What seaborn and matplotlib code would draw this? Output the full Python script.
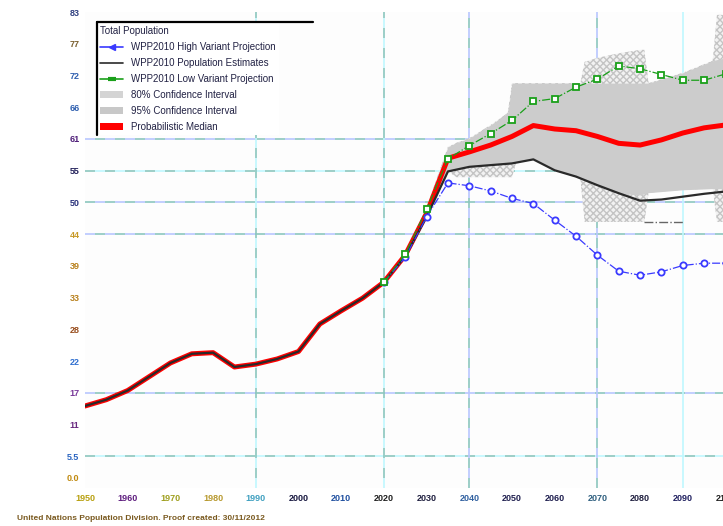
import numpy as np
import pandas as pd
import matplotlib.pyplot as plt
import seaborn as sns
from matplotlib.lines import Line2D
from matplotlib.patches import Patch

# ---- data (millions) ----
est_years = list(range(1950, 2101, 5))
est_vals = [14.3, 15.4, 17.0, 19.4, 21.8, 23.4, 23.6, 21.1, 21.6, 22.5, 23.8,
            28.6, 30.9, 33.1, 35.9, 40.4, 47.3, 55.2, 56.0, 56.3, 56.6, 57.3,
            55.4, 54.3, 52.8, 51.4, 50.1, 50.3, 50.8, 51.3, 51.7]
median_vals = [14.3, 15.4, 17.0, 19.4, 21.8, 23.4, 23.6, 21.1, 21.6, 22.5, 23.8,
               28.6, 30.9, 33.1, 35.9, 40.6, 47.9, 57.5, 58.6, 59.8, 61.3, 63.2,
               62.6, 62.3, 61.3, 60.1, 59.8, 60.7, 61.9, 62.8, 63.3]

proj_years = list(range(2020, 2101, 5))
high_vals = [35.9, 40.2, 47.3, 53.2, 52.7, 51.8, 50.5, 49.6, 46.7, 43.9, 40.6,
             37.8, 37.1, 37.7, 38.8, 39.2, 39.2]
low_vals = [35.9, 40.8, 48.6, 57.4, 59.7, 61.8, 64.1, 67.4, 67.9, 69.9, 71.3,
            73.6, 73.1, 72.1, 71.1, 71.1, 72.2]

ci_years = [2025, 2030, 2035, 2037, 2040, 2045, 2049, 2050, 2051, 2055, 2060,
            2066, 2067, 2070, 2075, 2080, 2081, 2082, 2090, 2097, 2098, 2100]
ci80_hi = [41.0, 49.0, 59.5, 60.2, 61.0, 63.3, 65.4, 70.6, 70.6, 70.6, 70.6,
           70.6, 70.6, 70.6, 70.6, 70.6, 70.6, 70.6, 72.4, 74.5, 74.7, 75.0]
ci80_lo = [40.0, 47.0, 55.2, 55.6, 56.0, 56.3, 56.5, 56.6, 56.8, 57.3, 55.4,
           54.0, 53.7, 52.8, 51.4, 51.1, 51.3, 51.5, 52.0, 52.2, 52.2, 52.2]
ci95_hi = [41.0, 49.0, 59.5, 60.2, 61.0, 63.3, 65.4, 70.6, 70.6, 70.6, 70.6,
           70.6, 74.3, 75.0, 75.8, 76.4, 76.4, 70.6, 72.4, 74.5, 82.5, 82.5]
ci95_lo = [40.0, 47.0, 55.2, 54.2, 54.2, 54.2, 54.2, 54.2, 56.8, 57.3, 55.4,
           54.0, 46.4, 46.4, 46.4, 46.4, 46.4, 51.5, 52.0, 52.2, 46.4, 46.4]

stray_years = [2081, 2090]
stray_vals = [46.4, 46.4]

y_max = 83
y_ticks = [i * y_max / 15 for i in range(16)]
y_labels = ["", "5.5", "11", "17", "22", "28", "33", "39", "44", "50",
            "55", "61", "66", "72", "77", "83"]
zero_label = "0.0"
x_ticks = list(range(1950, 2101, 10))

legend_title = "Total Population"
lbl_high = "WPP2010 High Variant Projection"
lbl_est = "WPP2010 Population Estimates"
lbl_low = "WPP2010 Low Variant Projection"
lbl_80 = "80% Confidence Interval"
lbl_95 = "95% Confidence Interval"
lbl_med = "Probabilistic Median"
footer = "United Nations Population Division. Proof created: 30/11/2012"

# ---- styling ----
sns.set_style("white")
plt.rcParams['font.family'] = ['Liberation Sans', 'DejaVu Sans']

teal, lblue, cyan = '#8cc6be', '#b8c6ff', '#bff8ff'
ylab_colors = ['#c08a10', '#2a64c0', '#6a2a80', '#7a3a9a', '#3070d0', '#9a5020',
               '#b8801c', '#b8801c', '#c89a28', '#28307a', '#22205a', '#50207a',
               '#3060b0', '#3060b0', '#7a6030', '#304080']
xlab_colors = ['#b8a010', '#602080', '#a0a020', '#b89a30', '#40a0c0', '#181840',
               '#2050a0', '#202020', '#202040', '#3060a0', '#202050', '#202050',
               '#306080', '#202040', '#202060', '#202020']

fig = plt.figure(figsize=(7.23, 5.26), dpi=100)
ax = fig.add_axes([85 / 723, 38 / 526, 155 * 4.27 / 723, 476 / 526])
ax.set_facecolor('#fdfdfd')

# dashed grid, two colours interleaved
h_grid = [(11, lblue, teal), (10, teal, cyan), (9, teal, lblue),
          (8, lblue, teal), (3, lblue, teal), (1, teal, cyan)]
for i, c1, c2 in h_grid:
    ax.axhline(y_ticks[i], color=c1, lw=1.2, ls=(0, (6, 6)), zorder=0)
    ax.axhline(y_ticks[i], color=c2, lw=1.2, ls=(6, (6, 6)), zorder=0)
v_grid = [(1990, cyan, teal), (2020, cyan, teal), (2040, teal, lblue),
          (2070, teal, lblue), (2090, cyan, cyan)]
for yr, c1, c2 in v_grid:
    ax.axvline(yr, color=c1, lw=1.2, ls=(0, (6, 6)), zorder=0)
    ax.axvline(yr, color=c2, lw=1.2, ls=(6, (6, 6)), zorder=0)

# confidence bands
ax.fill_between(ci_years, ci95_lo, ci95_hi, facecolor='#f2f2f2',
                edgecolor='#c4c4c4', hatch='xxxxx', lw=0, zorder=1)
ax.fill_between(ci_years, ci80_lo, ci80_hi, color='#cccccc', lw=0, zorder=2)

sns.lineplot(x=stray_years, y=stray_vals, ax=ax, color='#666666', lw=1,
             linestyle='-.', zorder=3)
sns.lineplot(x=est_years, y=median_vals, ax=ax, color='#ff0000', lw=3.6,
             zorder=4)
sns.lineplot(x=est_years, y=est_vals, ax=ax, color='#2a2a2a', lw=1.6,
             zorder=5)
sns.lineplot(x=proj_years, y=high_vals, ax=ax, color='#3a3aff', lw=0.9,
             linestyle='-.', marker='o', markersize=4.5, markerfacecolor='white',
             markeredgecolor='#3a3aff', markeredgewidth=1.3, zorder=6)
sns.lineplot(x=proj_years, y=low_vals, ax=ax, color='#1aa01a', lw=0.9,
             linestyle='-.', marker='s', markersize=4.5, markerfacecolor='white',
             markeredgecolor='#1aa01a', markeredgewidth=1.3, zorder=6)

ax.set_xlim(1950, 2105)
ax.set_ylim(0, y_max)
ax.set_xticks(x_ticks)
ax.set_xticklabels([str(x) for x in x_ticks])
ax.set_yticks(y_ticks)
ax.set_yticklabels(y_labels)
ax.tick_params(length=0, labelsize=6.5, pad=4)
for lab, c in zip(ax.get_yticklabels(), ylab_colors):
    lab.set_color(c)
    lab.set_fontweight('bold')
for lab, c in zip(ax.get_xticklabels(), xlab_colors):
    lab.set_color(c)
    lab.set_fontweight('bold')
ax.set_xlabel("")
ax.set_ylabel("")
for s in ax.spines.values():
    s.set_visible(False)

# the zero label sits a little above its tick in the original
ax.annotate(zero_label, xy=(0, 0), xycoords='axes fraction',
            xytext=(-4, 7), textcoords='offset points', ha='right',
            va='center', fontsize=6.5, fontweight='bold', color=ylab_colors[0])

# legend
handles = [
    Line2D([], [], color='#3a3aff', lw=1.2, marker='<', markersize=4),
    Line2D([], [], color='#2a2a2a', lw=1.2),
    Line2D([], [], color='#1aa01a', lw=1.2, marker='_', markersize=6,
           markeredgewidth=3),
    Patch(facecolor='#d4d4d4', edgecolor='none'),
    Patch(facecolor='#c8c8c8', edgecolor='none'),
    Patch(facecolor='#ff0000', edgecolor='none'),
]
labels = [lbl_high, lbl_est, lbl_low, lbl_80, lbl_95, lbl_med]
leg = ax.legend(handles, labels, title=legend_title, loc='upper left',
                bbox_to_anchor=(97 / 723, 1 - 23 / 526),
                bbox_transform=fig.transFigure, frameon=True, fontsize=7,
                title_fontsize=7, alignment='left', handlelength=2.4,
                labelspacing=0.62, borderpad=0.3, handletextpad=0.8,
                borderaxespad=0, fancybox=False)
leg.get_frame().set_facecolor('white')
leg.get_frame().set_edgecolor('none')
leg.get_frame().set_alpha(1)
leg.set_zorder(10)
for t in leg.get_texts():
    t.set_color('#222244')
leg.get_title().set_color('#222244')

# legend border (only left and top edges are drawn)
fig.add_artist(Line2D([97 / 723, 97 / 723], [1 - 22 / 526, 1 - 135 / 526],
                      color='black', lw=1.6))
fig.add_artist(Line2D([97 / 723, 313 / 723], [1 - 22 / 526, 1 - 22 / 526],
                      color='black', lw=1.6))

fig.text(17 / 723, 1 - 518 / 526, footer, fontsize=6, color='#7a5a20',
         fontweight='bold', va='center')

fig.savefig("out.png", dpi=100)
